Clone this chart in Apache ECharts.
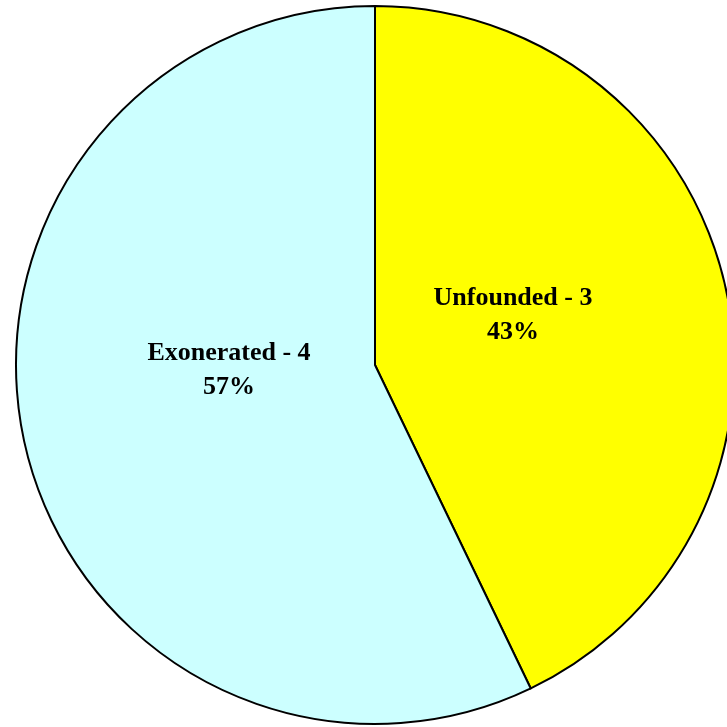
<!DOCTYPE html>
<html>
<head>
<meta charset="utf-8">
<script src="https://cdn.jsdelivr.net/npm/echarts@6/dist/echarts.min.js"></script>
<style>
  html, body { margin: 0; padding: 0; background: #fff; }
  #chart { width: 727px; height: 727px; }
</style>
</head>
<body>
<div id="chart"></div>
<script>
const categories = ['Unfounded', 'Exonerated']
const values = [3, 4]
const colors = ['#FFFF00', '#CCFFFF']
// where the labels sit (Excel places them a bit off the slice midpoints)
const labelSpots = [[513, 315], [229, 370]]

const chart = echarts.init(document.getElementById('chart'))

chart.setOption({
  animation: false,
  series: [{
    type: 'pie',
    center: [375, 365],
    radius: 359,
    startAngle: 90,
    clockwise: true,
    data: categories.map((name, i) => ({
      name,
      value: values[i],
      itemStyle: { color: colors[i] }
    })),
    itemStyle: { borderColor: '#000', borderWidth: 2 },
    emphasis: { disabled: true },
    label: {
      show: true,
      position: 'inside',
      formatter: p => `${p.name} - ${p.value}\n${Math.round(p.percent)}%`,
      fontFamily: '"Liberation Serif", "Times New Roman", serif',
      fontWeight: 'bold',
      fontSize: 26,
      lineHeight: 34,
      color: '#000',
      align: 'center',
      verticalAlign: 'middle'
    },
    labelLine: { show: false },
    labelLayout: p => ({
      x: labelSpots[p.dataIndex][0],
      y: labelSpots[p.dataIndex][1],
      align: 'center',
      verticalAlign: 'middle'
    })
  }]
})
</script>
</body>
</html>
